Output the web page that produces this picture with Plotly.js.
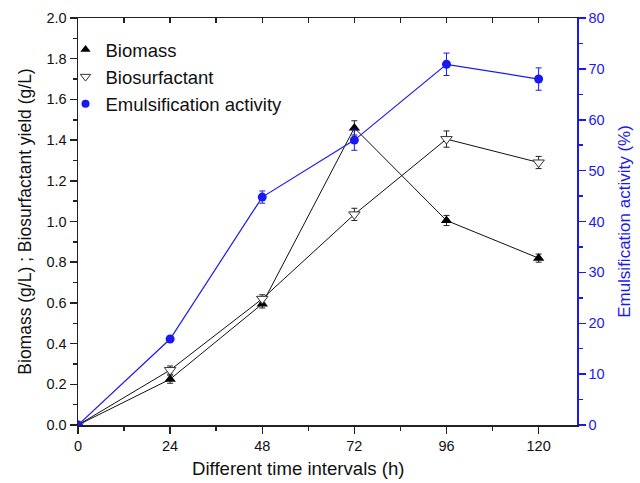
<!DOCTYPE html>
<html>
<head>
<meta charset="utf-8">
<script src="https://cdn.plot.ly/plotly-3.0.1.min.js"></script>
<style>html,body{margin:0;padding:0;background:#fff;}#chart{width:640px;height:483px;}</style>
</head>
<body>
<div id="chart"></div>
<script>
var timeH = [0, 24, 48, 72, 96, 120];
var biomass = [0, 0.225, 0.595, 1.46, 1.005, 0.82];
var biomassErr = [0, 0.02, 0.02, 0.035, 0.025, 0.02];
var biosurfactant = [0, 0.27, 0.62, 1.035, 1.405, 1.29];
var biosurfactantErr = [0, 0.02, 0.02, 0.03, 0.04, 0.03];
var emulsification = [0, 16.9, 44.8, 56, 70.9, 68];
var emulsificationErr = [0, 0.5, 1.2, 2, 2.2, 2.2];
var xTicks = [0, 24, 48, 72, 96, 120];
var xTitle = 'Different time intervals (h)';
var yTitle = 'Biomass (g/L) ; Biosurfactant yield (g/L)';
var y2Title = 'Emulsification activity (%)';

var BLUE = '#1a1af0';
var FONT = 'Liberation Sans, Arial, sans-serif';

var traces = [
  {x: timeH, y: biomass, mode: 'lines+markers', name: 'Biomass', showlegend: false,
   line: {color: '#111', width: 1},
   marker: {symbol: 'triangle-up', size: 10, color: '#000'},
   error_y: {type: 'data', array: biomassErr, color: '#222', thickness: 1, width: 3}},
  {x: timeH, y: biosurfactant, mode: 'lines+markers', name: 'Biosurfactant', showlegend: false,
   line: {color: '#111', width: 1},
   marker: {symbol: 'triangle-down', size: 10, color: '#fff', line: {color: '#333', width: 1}},
   error_y: {type: 'data', array: biosurfactantErr, color: '#222', thickness: 1, width: 3}},
  {x: timeH, y: emulsification, mode: 'lines+markers', name: 'Emulsification activity', showlegend: false,
   xaxis: 'x2', yaxis: 'y2',
   line: {color: BLUE, width: 1.2},
   marker: {symbol: 'circle', size: 9, color: BLUE},
   error_y: {type: 'data', array: emulsificationErr, color: BLUE, thickness: 1, width: 3}},
  {x: [null], y: [null], mode: 'markers', name: 'Biomass',
   marker: {symbol: 'triangle-up', size: 9, color: '#000'}},
  {x: [null], y: [null], mode: 'markers', name: 'Biosurfactant',
   marker: {symbol: 'triangle-down', size: 9, color: '#fff', line: {color: '#333', width: 1}}},
  {x: [null], y: [null], mode: 'markers', name: 'Emulsification activity',
   marker: {symbol: 'circle', size: 8, color: BLUE}}
];

var layout = {
  width: 640, height: 483,
  margin: {l: 78, r: 63, t: 18, b: 58},
  paper_bgcolor: '#fff', plot_bgcolor: '#fff',
  font: {family: FONT, size: 14.5, color: '#111'},
  showlegend: true,
  legend: {x: -0.025, y: 0.968, xanchor: 'left', yanchor: 'top', bgcolor: 'rgba(0,0,0,0)',
           font: {family: FONT, size: 18.5, color: '#111'}, itemwidth: 30, tracegroupgap: 0},
  annotations: [
    {text: xTitle, xref: 'paper', yref: 'paper', x: 0.442, y: -0.108,
     xanchor: 'center', yanchor: 'middle', showarrow: false,
     font: {family: FONT, size: 18.6, color: '#111'}}
  ],
  xaxis: {range: [0, 130], tickvals: xTicks, ticks: 'outside', ticklen: 7, tickwidth: 1.5,
          tickcolor: '#222', showline: true, linecolor: '#222', linewidth: 1.5,
          showgrid: false, zeroline: false,
          minor: {dtick: 12, ticks: 'outside', ticklen: 4, tickwidth: 1.5, tickcolor: '#222'},
          tickfont: {size: 14.5, color: '#111'}},
  yaxis: {range: [0, 2.0], dtick: 0.2, tickformat: '.1f', ticks: 'outside', ticklen: 7, tickwidth: 1.5,
          tickcolor: '#222', showline: true, linecolor: '#222', linewidth: 1.5,
          showgrid: false, zeroline: false,
          minor: {dtick: 0.1, ticks: 'outside', ticklen: 4, tickwidth: 1.5, tickcolor: '#222'},
          tickfont: {size: 14.5, color: '#111'},
          title: {text: yTitle, font: {size: 17.5, color: '#111'}, standoff: 10}},
  xaxis2: {range: [0, 130], overlaying: 'x', side: 'top', anchor: 'y2', dtick: 12, tick0: 0,
           ticks: 'inside', ticklen: 5, tickwidth: 1.5, tickcolor: '#222',
           showline: true, linecolor: '#222', linewidth: 1.5,
           showticklabels: false, showgrid: false, zeroline: false},
  yaxis2: {range: [0, 80], dtick: 10, overlaying: 'y', side: 'right', anchor: 'x2',
           ticks: 'outside', ticklen: 7, tickwidth: 1.5, tickcolor: BLUE,
           showline: true, linecolor: BLUE, linewidth: 1.5,
           showgrid: false, zeroline: false,
           minor: {dtick: 5, ticks: 'outside', ticklen: 4, tickwidth: 1.5, tickcolor: BLUE},
           tickfont: {size: 14.5, color: BLUE},
           title: {text: y2Title, font: {size: 17, color: BLUE}, standoff: 14}}
};

Plotly.newPlot('chart', traces, layout, {displayModeBar: false, staticPlot: true});
</script>
</body>
</html>
